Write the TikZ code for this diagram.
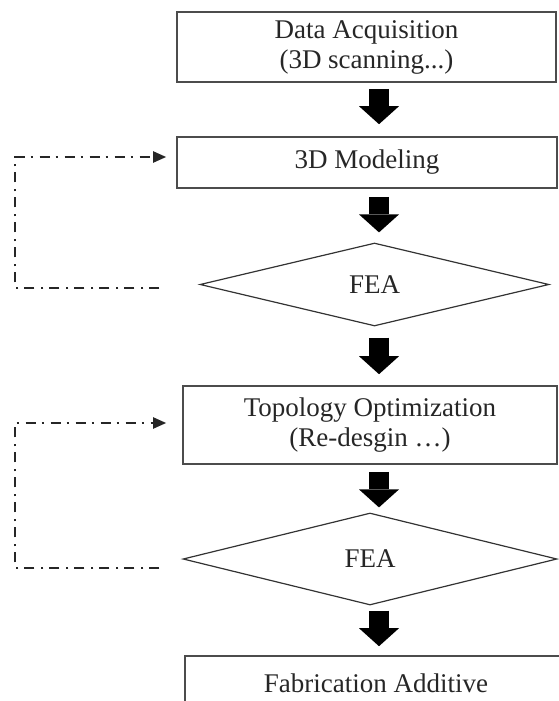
\documentclass[tikz,border=0pt]{standalone}
\usepackage{fontspec}
\setmainfont{Liberation Serif}
\usetikzlibrary{shapes.geometric,arrows.meta}

\begin{document}
\begin{tikzpicture}[x=0.5pt,y=-0.5pt,
    box/.style={draw=black!70,line width=0.8pt,rectangle,inner sep=0pt,align=center,
      font=\fontsize{13.5}{15}\selectfont,text=black!85},
    fea/.style={draw=black!80,line width=0.6pt,diamond,inner sep=0pt,
      font=\fontsize{13.5}{15}\selectfont,text=black!85},
    bigarrow/.style={line width=10pt,-{Triangle[width=20pt,length=9pt,line width=0pt]}},
    feedback/.style={black!85,line width=1pt,dash pattern=on 5pt off 3pt on 1pt off 3.5pt,
      -{Triangle[length=6.5pt,width=5.5pt]}}]
  \useasboundingbox (0,0) rectangle (558,701);
  \coordinate (spine) at (379,0);
  \coordinate (rail) at (15,0);

  \node (acq) [box,minimum width=189.5pt,minimum height=35pt] at (366.5,47)
    {Data Acquisition\\(3D scanning...)};
  \node (model) [box,minimum width=190pt,minimum height=25.5pt] at (367,162.5) {3D Modeling};
  \node (fea1) [fea,minimum width=174.5pt,minimum height=41.5pt] at (374.5,284.5) {FEA};
  \node (topo) [box,minimum width=187pt,minimum height=39pt] at (370,425)
    {Topology Optimization\\(Re-desgin …)};
  \node (fea2) [fea,minimum width=187pt,minimum height=46pt] at (370,559) {FEA};
  % runs off the page on the right
  \node (fab) [box,minimum width=215pt,minimum height=27pt] at (400,683)
    {Fabrication Additive\hspace*{24pt}};

  % main flow
  \draw[bigarrow,shorten <=3pt,shorten >=6pt] (acq.south -| spine) -- (model.north -| spine);
  \draw[bigarrow,shorten <=4pt,shorten >=5pt] (model.south -| spine) -- (fea1.north -| spine);
  \draw[bigarrow,shorten <=5.5pt,shorten >=5.5pt] (fea1.south -| spine) -- (topo.north -| spine);
  \draw[bigarrow,shorten <=3.5pt,shorten >=2.5pt] (topo.south -| spine) -- (fea2.north -| spine);
  \draw[bigarrow,shorten <=2.5pt,shorten >=4.5pt] (fea2.south -| spine) -- (fab.north -| spine);

  % loops back from the analyses
  \draw[feedback] ([xshift=-20pt,yshift=-1.75pt]fea1.west) -- ([yshift=-1.75pt]fea1.west -| rail)
    |- ([xshift=-5pt,yshift=2.75pt]model.west);
  \draw[feedback] ([xshift=-11.5pt,yshift=-4.5pt]fea2.west) -- ([yshift=-4.5pt]fea2.west -| rail)
    |- ([xshift=-8pt,yshift=1pt]topo.west);
\end{tikzpicture}
\end{document}
